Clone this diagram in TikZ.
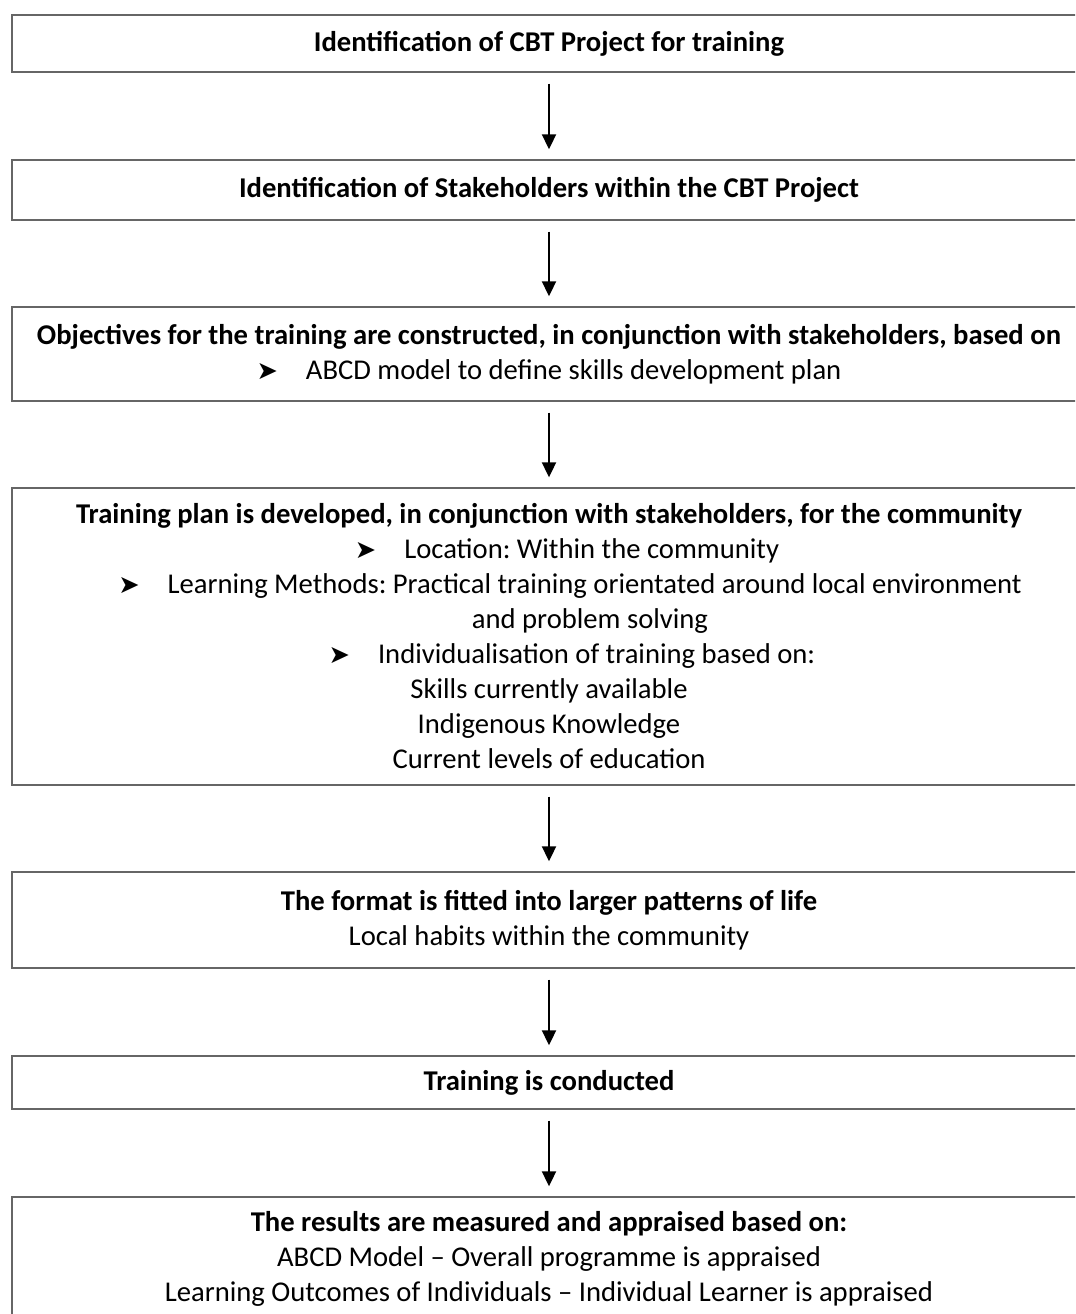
\documentclass[tikz,border=0pt]{standalone}
\usepackage{fontspec}
\setmainfont{Carlito}
\newfontfamily\symfont{DejaVu Sans}
\usepackage{tikz}
\usetikzlibrary{arrows.meta}

\newcommand{\bul}{{\symfont\fontsize{14.5pt}{14.5pt}\selectfont ➤}\hspace{0.56cm}}

\begin{document}
\frenchspacing
\begin{tikzpicture}[x=0.02cm,y=-0.02cm,
    box/.style={draw=black!60,line width=0.8pt,minimum width=21.48cm,inner sep=0pt,
      align=center,font=\fontsize{16.3pt}{19.92pt}\selectfont},
    flow/.style={-{Triangle[width=0.28cm,length=0.3cm]},line width=1.1pt}]
    \clip (0,0) rectangle (1075,1314);
    \fill[white] (0,0) rectangle (1075,1314);

    \node[box,minimum height=1.14cm] (ident) at (549,43.5) {\textbf{Identification of CBT Project for training}};
    \node[box,minimum height=1.2cm] (stake) at (549,190) {\textbf{Identification of Stakeholders within the CBT Project}};
    \node[box,minimum height=1.88cm] (obj) at (549,354) {\textbf{Objectives for the training are constructed, in conjunction with stakeholders, based on}\\
      \bul ABCD model to define skills development plan};
    \node[box,minimum height=5.94cm] (plan) at (549,636.5) {\textbf{Training plan is developed, in conjunction with stakeholders, for the community}\\
      \hspace*{0.72cm}\bul Location: Within the community\\
      \hspace*{0.84cm}\bul Learning Methods: Practical training orientated around local environment\\
      \hspace*{1.64cm}and problem solving\\
      \hspace*{0.92cm}\bul Individualisation of training based on:\\
      Skills currently available\\
      Indigenous Knowledge\\
      Current levels of education};
    \node[box,minimum height=1.92cm] (fmt) at (549,920) {\textbf{The format is fitted into larger patterns of life}\\
      Local habits within the community};
    \node[box,minimum height=1.06cm] (cond) at (549,1082.5) {\textbf{Training is conducted}};
    \node[box,minimum height=2.46cm] (res) at (549,1258.5) {\textbf{The results are measured and appraised based on:}\\
      ABCD Model -- Overall programme is appraised\\
      Learning Outcomes of Individuals -- Individual Learner is appraised};

    \foreach \a/\b in {ident/stake,stake/obj,obj/plan,plan/fmt,fmt/cond,cond/res}
      \draw[flow] ([yshift=-0.22cm]\a.south) -- ([yshift=0.2cm]\b.north);
\end{tikzpicture}
\end{document}
